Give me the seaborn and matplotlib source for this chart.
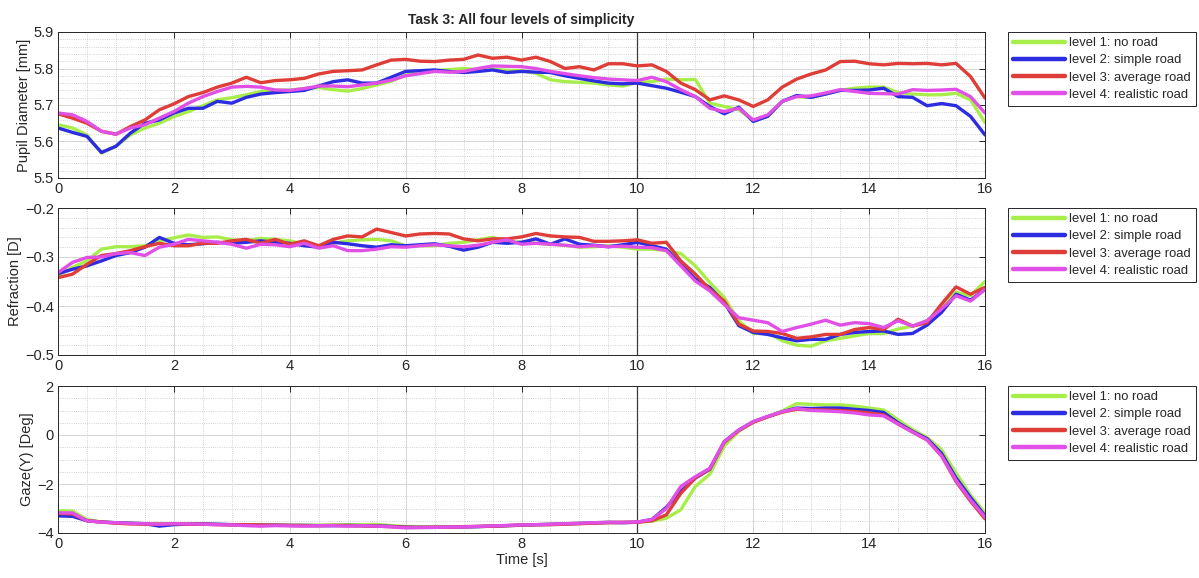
import numpy as np
import pandas as pd
import matplotlib
matplotlib.use("Agg")
import matplotlib.pyplot as plt
import seaborn as sns
from matplotlib.ticker import MultipleLocator

# Niveles y colores (estilo MATLAB)
niveles = ["level 1: no road", "level 2: simple road", "level 3: average road", "level 4: realistic road"]
colores = ["#a8ee4a", "#2c2ce0", "#df3d38", "#e050e6"]

# Eje de tiempo [s], paso 0.25
tiempo = np.arange(0, 16.001, 0.25)

# Diametro pupilar [mm]
pupila_l1 = [5.646, 5.637, 5.618, 5.568, 5.587, 5.618, 5.637, 5.650,
             5.668, 5.682, 5.698, 5.714, 5.720, 5.728, 5.737, 5.741,
             5.741, 5.745, 5.748, 5.742, 5.738, 5.745, 5.755, 5.765,
             5.782, 5.788, 5.794, 5.797, 5.800, 5.797, 5.798, 5.795,
             5.794, 5.787, 5.769, 5.764, 5.762, 5.760, 5.755, 5.752,
             5.762, 5.764, 5.771, 5.769, 5.770, 5.705, 5.696, 5.687,
             5.658, 5.669, 5.710, 5.723, 5.721, 5.730, 5.740, 5.746,
             5.749, 5.749, 5.734, 5.730, 5.728, 5.728, 5.732, 5.714,
             5.652]
pupila_l2 = [5.637, 5.625, 5.614, 5.570, 5.587, 5.623, 5.650, 5.659,
             5.678, 5.691, 5.691, 5.710, 5.705, 5.721, 5.730, 5.734,
             5.737, 5.740, 5.752, 5.764, 5.769, 5.760, 5.760, 5.776,
             5.792, 5.794, 5.796, 5.792, 5.789, 5.792, 5.796, 5.789,
             5.792, 5.790, 5.789, 5.780, 5.773, 5.766, 5.760, 5.758,
             5.760, 5.753, 5.746, 5.735, 5.723, 5.696, 5.676, 5.694,
             5.655, 5.669, 5.710, 5.726, 5.721, 5.730, 5.740, 5.740,
             5.741, 5.746, 5.723, 5.721, 5.698, 5.704, 5.698, 5.669,
             5.618]
pupila_l3 = [5.676, 5.664, 5.650, 5.628, 5.620, 5.641, 5.659, 5.687,
             5.703, 5.723, 5.734, 5.749, 5.760, 5.776, 5.761, 5.767,
             5.769, 5.773, 5.785, 5.792, 5.794, 5.796, 5.810, 5.823,
             5.825, 5.820, 5.819, 5.823, 5.825, 5.837, 5.828, 5.831,
             5.823, 5.831, 5.819, 5.800, 5.805, 5.796, 5.813, 5.813,
             5.807, 5.810, 5.792, 5.760, 5.742, 5.714, 5.725, 5.714,
             5.696, 5.714, 5.749, 5.771, 5.785, 5.796, 5.819, 5.820,
             5.813, 5.810, 5.814, 5.813, 5.814, 5.810, 5.814, 5.778,
             5.719]
pupila_l4 = [5.678, 5.673, 5.655, 5.628, 5.620, 5.637, 5.646, 5.664,
             5.682, 5.705, 5.723, 5.737, 5.749, 5.751, 5.749, 5.741,
             5.740, 5.745, 5.752, 5.752, 5.750, 5.755, 5.760, 5.768,
             5.780, 5.786, 5.792, 5.790, 5.792, 5.800, 5.807, 5.806,
             5.805, 5.800, 5.792, 5.786, 5.780, 5.775, 5.771, 5.769,
             5.767, 5.776, 5.764, 5.742, 5.723, 5.691, 5.682, 5.691,
             5.659, 5.673, 5.710, 5.723, 5.725, 5.733, 5.742, 5.737,
             5.732, 5.731, 5.730, 5.742, 5.740, 5.741, 5.743, 5.723,
             5.678]

# Refraccion [D]
refr_l1 = [-0.338, -0.321, -0.308, -0.284, -0.279, -0.279, -0.277, -0.267,
           -0.261, -0.255, -0.260, -0.259, -0.265, -0.267, -0.262, -0.264,
           -0.267, -0.274, -0.280, -0.272, -0.267, -0.265, -0.264, -0.267,
           -0.277, -0.277, -0.277, -0.272, -0.270, -0.265, -0.260, -0.268,
           -0.270, -0.272, -0.274, -0.276, -0.280, -0.279, -0.277, -0.280,
           -0.284, -0.284, -0.287, -0.293, -0.318, -0.352, -0.383, -0.430,
           -0.456, -0.454, -0.471, -0.480, -0.482, -0.471, -0.466, -0.461,
           -0.456, -0.456, -0.447, -0.441, -0.430, -0.403, -0.372, -0.379,
           -0.350]
refr_l2 = [-0.334, -0.325, -0.318, -0.308, -0.297, -0.291, -0.280, -0.260,
           -0.272, -0.275, -0.273, -0.270, -0.272, -0.270, -0.267, -0.270,
           -0.272, -0.277, -0.280, -0.270, -0.273, -0.277, -0.280, -0.275,
           -0.277, -0.275, -0.273, -0.278, -0.286, -0.280, -0.270, -0.272,
           -0.270, -0.263, -0.274, -0.263, -0.274, -0.276, -0.279, -0.275,
           -0.270, -0.277, -0.284, -0.315, -0.345, -0.362, -0.393, -0.440,
           -0.454, -0.458, -0.465, -0.471, -0.468, -0.468, -0.458, -0.454,
           -0.452, -0.451, -0.458, -0.456, -0.439, -0.413, -0.376, -0.388,
           -0.366]
refr_l3 = [-0.342, -0.335, -0.315, -0.297, -0.293, -0.287, -0.279, -0.272,
           -0.277, -0.277, -0.272, -0.272, -0.267, -0.264, -0.272, -0.264,
           -0.274, -0.267, -0.277, -0.264, -0.257, -0.259, -0.243, -0.250,
           -0.257, -0.253, -0.252, -0.253, -0.263, -0.267, -0.263, -0.263,
           -0.259, -0.252, -0.257, -0.259, -0.260, -0.268, -0.268, -0.267,
           -0.265, -0.272, -0.270, -0.308, -0.335, -0.366, -0.390, -0.437,
           -0.451, -0.452, -0.456, -0.466, -0.463, -0.458, -0.458, -0.448,
           -0.444, -0.448, -0.427, -0.441, -0.434, -0.396, -0.361, -0.376,
           -0.362]
refr_l4 = [-0.332, -0.311, -0.301, -0.300, -0.293, -0.291, -0.297, -0.280,
           -0.274, -0.264, -0.267, -0.270, -0.274, -0.282, -0.274, -0.275,
           -0.279, -0.272, -0.282, -0.277, -0.287, -0.287, -0.284, -0.279,
           -0.280, -0.277, -0.275, -0.277, -0.279, -0.276, -0.270, -0.265,
           -0.274, -0.272, -0.274, -0.276, -0.279, -0.277, -0.279, -0.278,
           -0.280, -0.281, -0.287, -0.318, -0.349, -0.369, -0.397, -0.424,
           -0.429, -0.434, -0.452, -0.444, -0.437, -0.429, -0.439, -0.434,
           -0.436, -0.444, -0.430, -0.441, -0.430, -0.406, -0.379, -0.390,
           -0.366]

# Mirada vertical [Deg]
gaze_l1 = [-3.10, -3.10, -3.45, -3.55, -3.58, -3.60, -3.62, -3.62,
           -3.62, -3.63, -3.63, -3.65, -3.66, -3.66, -3.66, -3.67,
           -3.68, -3.68, -3.68, -3.67, -3.66, -3.66, -3.65, -3.70,
           -3.74, -3.75, -3.76, -3.76, -3.75, -3.74, -3.72, -3.70,
           -3.68, -3.66, -3.64, -3.62, -3.60, -3.58, -3.56, -3.56,
           -3.55, -3.52, -3.40, -3.05, -2.10, -1.60, -0.45, 0.15,
           0.52, 0.75, 0.98, 1.28, 1.25, 1.23, 1.23, 1.18,
           1.10, 1.02, 0.62, 0.22, -0.10, -0.60, -1.55, -2.45,
           -3.18]
gaze_l2 = [-3.30, -3.32, -3.50, -3.55, -3.58, -3.60, -3.62, -3.72,
           -3.66, -3.64, -3.63, -3.64, -3.66, -3.67, -3.68, -3.68,
           -3.69, -3.69, -3.70, -3.70, -3.69, -3.70, -3.71, -3.73,
           -3.76, -3.77, -3.77, -3.76, -3.75, -3.74, -3.72, -3.70,
           -3.68, -3.66, -3.65, -3.63, -3.61, -3.59, -3.57, -3.58,
           -3.56, -3.45, -2.95, -2.30, -1.76, -1.40, -0.27, 0.20,
           0.54, 0.75, 0.95, 1.10, 1.08, 1.10, 1.10, 1.05,
           1.00, 0.92, 0.50, 0.15, -0.15, -0.75, -1.75, -2.55,
           -3.30]
gaze_l3 = [-3.20, -3.22, -3.50, -3.55, -3.60, -3.63, -3.64, -3.64,
           -3.62, -3.64, -3.64, -3.66, -3.67, -3.66, -3.67, -3.68,
           -3.69, -3.70, -3.70, -3.69, -3.70, -3.71, -3.72, -3.74,
           -3.77, -3.77, -3.76, -3.76, -3.74, -3.73, -3.72, -3.70,
           -3.68, -3.66, -3.66, -3.64, -3.62, -3.60, -3.58, -3.57,
           -3.56, -3.50, -3.26, -2.38, -1.75, -1.38, -0.30, 0.18,
           0.52, 0.74, 0.93, 1.05, 1.03, 1.02, 1.00, 0.96,
           0.90, 0.82, 0.45, 0.12, -0.20, -0.85, -1.90, -2.70,
           -3.42]
gaze_l4 = [-3.18, -3.18, -3.50, -3.56, -3.58, -3.61, -3.62, -3.64,
           -3.62, -3.63, -3.64, -3.66, -3.67, -3.70, -3.72, -3.70,
           -3.71, -3.72, -3.70, -3.70, -3.72, -3.70, -3.72, -3.75,
           -3.79, -3.78, -3.77, -3.76, -3.75, -3.73, -3.71, -3.69,
           -3.67, -3.66, -3.64, -3.62, -3.60, -3.58, -3.56, -3.56,
           -3.55, -3.45, -3.00, -2.10, -1.70, -1.36, -0.27, 0.20,
           0.55, 0.76, 0.95, 1.08, 1.00, 0.98, 0.95, 0.90,
           0.82, 0.78, 0.45, 0.12, -0.20, -0.85, -1.85, -2.65,
           -3.35]


def tabla_larga(series):
    partes = []
    for nivel, valores in zip(niveles, series):
        partes.append(pd.DataFrame({"t": tiempo, "valor": valores, "nivel": nivel}))
    return pd.concat(partes, ignore_index=True)


paneles = [
    (tabla_larga([pupila_l1, pupila_l2, pupila_l3, pupila_l4]), "Pupil Diameter [mm]", (5.5, 5.9), 0.1, 0.02),
    (tabla_larga([refr_l1, refr_l2, refr_l3, refr_l4]), "Refraction [D]", (-0.5, -0.2), 0.1, 0.02),
    (tabla_larga([gaze_l1, gaze_l2, gaze_l3, gaze_l4]), "Gaze(Y) [Deg]", (-4, 2), 2, 0.5),
]

sns.set_style("white")
plt.rcParams["font.family"] = ["Liberation Sans", "DejaVu Sans"]

fig = plt.figure(figsize=(11.99, 5.78), dpi=100)
W, H = 1199, 578
izq, der = 58, 985
marcos = [(32, 178), (208, 355), (386, 533)]

for i, ((df, etiqueta, ylim, paso, paso_menor), (arriba, abajo)) in enumerate(zip(paneles, marcos)):
    ax = fig.add_axes([izq / W, 1 - abajo / H, (der - izq) / W, (abajo - arriba) / H])
    ax.grid(True, which="major", color="#d6d6d6", linewidth=0.7, linestyle="-")
    ax.grid(True, which="minor", color="#c4c4c4", linewidth=0.6, linestyle=":")
    ax.set_axisbelow(True)
    ax.axvline(10, color="#3a3a3a", linewidth=0.9, zorder=1.5)

    sns.lineplot(data=df, x="t", y="valor", hue="nivel", hue_order=niveles, palette=colores,
                 estimator=None, linewidth=2.4, ax=ax)

    ax.set_xlim(0, 16)
    ax.set_ylim(*ylim)
    ax.xaxis.set_major_locator(MultipleLocator(2))
    ax.xaxis.set_minor_locator(MultipleLocator(0.5))
    ax.yaxis.set_major_locator(MultipleLocator(paso))
    ax.yaxis.set_minor_locator(MultipleLocator(paso_menor))
    ax.tick_params(which="major", direction="in", top=True, right=True, length=4,
                   width=0.7, color="#262626", labelsize=10.5, labelcolor="#262626", pad=3)
    ax.tick_params(which="minor", length=0)
    for lado in ax.spines.values():
        lado.set_color("#262626")
        lado.set_linewidth(0.7)
    ax.set_ylabel(etiqueta, fontsize=10.5, color="#262626", labelpad=2)
    if i == 2:
        ax.set_xlabel("Time [s]", fontsize=10.5, color="#262626", labelpad=1)
    else:
        ax.set_xlabel("")
    if i == 0:
        ax.set_title("Task 3: All four levels of simplicity", fontsize=10, fontweight="bold", pad=6)

    ax.legend(loc="upper left", bbox_to_anchor=(1.0248, 1.0), fontsize=9.4, frameon=True,
              fancybox=False, edgecolor="#262626", framealpha=1, handlelength=4.0,
              handletextpad=0.3, borderpad=0.4, labelspacing=0.38, borderaxespad=0)
    ax.get_legend().get_frame().set_linewidth(0.7)
    for linea in ax.get_legend().get_lines():
        linea.set_linewidth(3.2)

fig.savefig("out.png", dpi=100)
plt.close(fig)
